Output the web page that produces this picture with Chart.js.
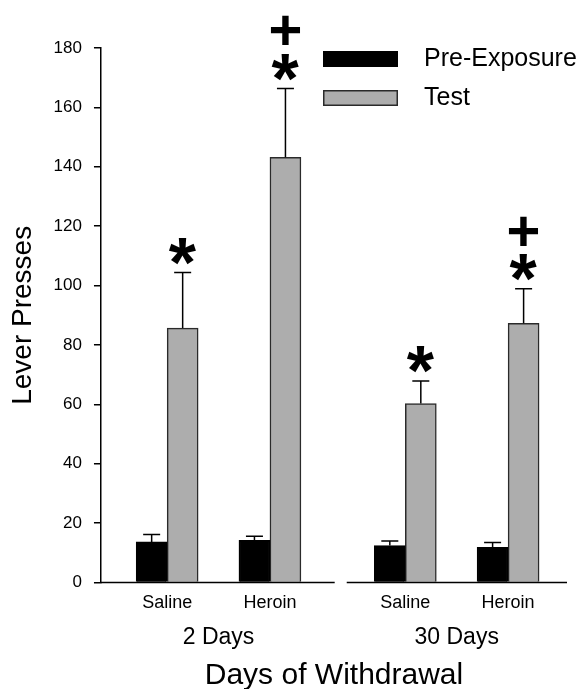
<!DOCTYPE html>
<html>
<head>
<meta charset="utf-8">
<script src="https://cdn.jsdelivr.net/npm/chart.js@4.4.0/dist/chart.umd.min.js"></script>
<style>
  html, body { margin: 0; padding: 0; background: #fff; }
  #chart-container { width: 582px; height: 689px; position: relative; }
</style>
</head>
<body>
<div id="chart-container"><canvas id="myChart"></canvas></div>
<script>
// data
const days = ['2 Days', '30 Days'];
const treatments = ['Saline', 'Heroin'];
const preExposure = [13.7, 14.2, 12.5, 11.9];
const preExposureErr = [2.5, 1.4, 1.5, 1.6];
const test = [85.7, 143.2, 60.3, 87.3];
const testErr = [18.7, 23.2, 7.6, 11.6];
const testMarks = [['*'], ['*', '+'], ['*'], ['*', '+']];
const yTicks = [0, 20, 40, 60, 80, 100, 120, 140, 160, 180];

// layout: distance between the two withdrawal groups on the x scale
const GROUP_GAP = 2.317;
const FONT = "'Liberation Sans', Arial, sans-serif";

Chart.defaults.font.family = FONT;
Chart.defaults.color = '#000';

const slotX = (i) => Math.floor(i / 2) * GROUP_GAP + (i % 2);
const tickSlots = preExposure.map((v, i) => slotX(i));
const groupSlots = days.map((d, g) => g * GROUP_GAP + 0.5);

// error bars (upward only) with caps
const errorBars = {
  id: 'errorBars',
  afterDatasetsDraw(chart) {
    const ctx = chart.ctx;
    const y = chart.scales.y;
    const errs = [preExposureErr, testErr];
    ctx.save();
    ctx.strokeStyle = '#000';
    ctx.lineWidth = 1.5;
    chart.data.datasets.forEach((ds, d) => {
      const meta = chart.getDatasetMeta(d);
      meta.data.forEach((bar, i) => {
        const top = y.getPixelForValue(ds.data[i].y + errs[d][i]);
        ctx.beginPath();
        ctx.moveTo(bar.x, bar.y);
        ctx.lineTo(bar.x, top);
        ctx.moveTo(bar.x - 8.5, top);
        ctx.lineTo(bar.x + 8.5, top);
        ctx.stroke();
      });
    });
    ctx.restore();
  },
  afterDraw(chart) {
    // significance marks above the test bars
    const ctx = chart.ctx;
    const y = chart.scales.y;
    const meta = chart.getDatasetMeta(1);
    ctx.save();
    ctx.fillStyle = '#000';
    ctx.textAlign = 'left';
    ctx.textBaseline = 'alphabetic';
    meta.data.forEach((bar, i) => {
      let cy = y.getPixelForValue(test[i] + testErr[i]) - 21;
      testMarks[i].forEach((m) => {
        ctx.font = (m === '*' ? 'bold 70px ' : 'bold 58px ') + FONT;
        const mt = ctx.measureText(m);
        const bx = bar.x - (mt.actualBoundingBoxRight - mt.actualBoundingBoxLeft) / 2;
        const by = cy + (mt.actualBoundingBoxAscent - mt.actualBoundingBoxDescent) / 2;
        ctx.fillText(m, bx, by);
        cy -= 37;
      });
    });
    ctx.restore();
  }
};

// x axis line broken between the two groups
const brokenAxis = {
  id: 'brokenAxis',
  afterDraw(chart) {
    const ctx = chart.ctx;
    const x = chart.scales.x;
    const area = chart.chartArea;
    ctx.save();
    ctx.strokeStyle = '#000';
    ctx.lineWidth = 1.5;
    ctx.beginPath();
    ctx.moveTo(area.left, area.bottom);
    ctx.lineTo(x.getPixelForValue(1.63), area.bottom);
    ctx.moveTo(x.getPixelForValue(GROUP_GAP - 0.57), area.bottom);
    ctx.lineTo(area.right, area.bottom);
    ctx.stroke();
    ctx.restore();
  }
};

// legend in the top right corner of the plot
const boxLegend = {
  id: 'boxLegend',
  afterDraw(chart) {
    const ctx = chart.ctx;
    const area = chart.chartArea;
    ctx.save();
    ctx.font = '25px ' + FONT;
    ctx.textBaseline = 'middle';
    ctx.textAlign = 'left';
    chart.data.datasets.forEach((ds, d) => {
      const bx = area.right - 244;
      const by = area.top + 3 + d * 39;
      ctx.fillStyle = ds.backgroundColor;
      ctx.fillRect(bx, by, 75, 16);
      ctx.strokeStyle = ds.borderColor;
      ctx.lineWidth = 1.5;
      ctx.strokeRect(bx + 0.75, by + 0.75, 73.5, 14.5);
      ctx.fillStyle = '#000';
      ctx.fillText(ds.label, bx + 101, by + 8);
    });
    ctx.restore();
  }
};

const data = {
  datasets: [
    {
      label: 'Pre-Exposure',
      backgroundColor: '#000000',
      borderColor: '#000000',
      borderWidth: 1.5,
      data: preExposure.map((v, i) => ({ x: slotX(i), y: v })),
    },
    {
      label: 'Test',
      backgroundColor: '#adadad',
      borderColor: '#2a2a2a',
      borderWidth: 1.5,
      data: test.map((v, i) => ({ x: slotX(i), y: v })),
    },
  ],
};

const options = {
  responsive: true,
  maintainAspectRatio: false,
  animation: false,
  barThickness: 31,
  layout: { padding: { left: 4, top: 48, right: 15, bottom: 0 } },
  plugins: {
    legend: { display: false },
    tooltip: { enabled: false },
  },
  scales: {
    x: {
      type: 'linear',
      offset: false,
      min: -0.644,
      max: 3.89,
      weight: 0,
      grid: { display: false, drawTicks: false },
      border: { display: false },
      afterBuildTicks: (scale) => { scale.ticks = tickSlots.map((v) => ({ value: v })); },
      ticks: {
        autoSkip: false,
        maxRotation: 0,
        padding: 9.5,
        font: { size: 18 },
        callback: (value, index) => treatments[index % 2],
      },
    },
    xg: {
      type: 'linear',
      position: 'bottom',
      offset: false,
      min: -0.644,
      max: 3.89,
      weight: 1,
      grid: { display: false, drawTicks: false },
      border: { display: false },
      afterBuildTicks: (scale) => { scale.ticks = groupSlots.map((v) => ({ value: v })); },
      ticks: {
        autoSkip: false,
        maxRotation: 0,
        padding: 1,
        font: { size: 23 },
        callback: (value, index) => days[index],
      },
      title: {
        display: true,
        text: 'Days of Withdrawal',
        font: { size: 30, lineHeight: 0.9 },
        padding: { top: 9.2, bottom: 0 },
      },
    },
    y: {
      min: 0,
      max: 180,
      afterBuildTicks: (scale) => { scale.ticks = yTicks.map((v) => ({ value: v })); },
      grid: { drawOnChartArea: false, drawTicks: true, tickLength: 7, color: '#000', lineWidth: 1.5 },
      border: { color: '#000', width: 1.5 },
      ticks: { padding: 12, font: { size: 17 } },
      title: {
        display: true,
        text: 'Lever Presses',
        font: { size: 28 },
        padding: { top: 2, bottom: 2 },
      },
    },
  },
};

new Chart(document.getElementById('myChart').getContext('2d'), {
  type: 'bar',
  data: data,
  options: options,
  plugins: [errorBars, brokenAxis, boxLegend],
});
</script>
</body>
</html>
